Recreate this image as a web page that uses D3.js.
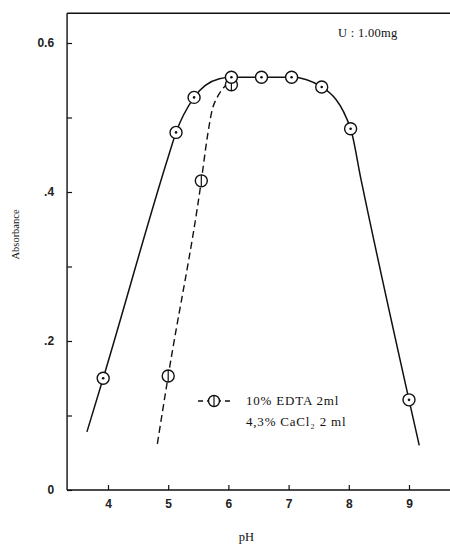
<!DOCTYPE html>
<html><head><meta charset="utf-8">
<script src="https://cdn.jsdelivr.net/npm/d3@7"></script>
<style>body{margin:0;background:#fff}svg{display:block}</style>
</head><body>
<svg id="c" width="450" height="550"></svg>
<script>
// ---- data ----
const solidMarkerPH = [3.92, 5.13, 5.43, 6.05, 6.55, 7.05, 7.55, 8.03, 9.0];
const solidMarkerAbs = [0.150, 0.480, 0.527, 0.554, 0.554, 0.554, 0.541, 0.485, 0.121];
const solidCurvePH = [3.65, 3.92, 5.0, 5.13, 5.43, 5.85, 6.05, 6.55, 7.05, 7.55, 8.03, 8.2, 9.0, 9.17];
const solidCurveAbs = [0.078, 0.150, 0.447, 0.480, 0.527, 0.552, 0.554, 0.554, 0.554, 0.541, 0.485, 0.418, 0.121, 0.060];
const dashMarkerPH = [5.0, 5.55, 6.05];
const dashMarkerAbs = [0.153, 0.415, 0.544];
const dashCurvePH = [4.82, 5.0, 5.55, 5.65, 5.73, 5.82, 5.92, 6.02];
const dashCurveAbs = [0.062, 0.153, 0.415, 0.474, 0.510, 0.528, 0.540, 0.548];
const xTicks = [4, 5, 6, 7, 8, 9];
const yTicks = [0, 0.2, 0.4, 0.6];
const yTickLabels = ["0", ".2", ".4", "0.6"];
const yMinorTicks = [0.1, 0.3, 0.5];
const legendLines = ["10% EDTA 2ml", "4,3% CaCl\u2082 2 ml"];
const noteText = "U : 1.00mg";
const xTitle = "pH";
const yTitle = "Absorbance";

// ---- layout ----
const svg = d3.select("#c");
const x = d3.scaleLinear().domain([4, 9]).range([108, 409]);
const y = d3.scaleLinear().domain([0, 0.6]).range([490, 43]);
const serif = "'Liberation Serif', 'DejaVu Serif', serif";
const sans = "'Liberation Sans', Arial, sans-serif";

// frame lines
const xL = x(3.32), xR = x(9.72), yT = y(0.64), yB = y(0);
svg.append("line").attr("x1", xL).attr("x2", xL).attr("y1", yT).attr("y2", yB).attr("stroke", "#111").attr("stroke-width", 1.4);
svg.append("line").attr("x1", xL).attr("x2", xR).attr("y1", yB).attr("y2", yB).attr("stroke", "#111").attr("stroke-width", 1.4);
svg.append("line").attr("x1", xL).attr("x2", xR).attr("y1", yT).attr("y2", yT).attr("stroke", "#111").attr("stroke-width", 1.4);

// axes
const gy = svg.append("g").attr("transform", `translate(${xL},0)`)
  .call(d3.axisLeft(y).tickValues(yTicks).tickFormat((d, i) => yTickLabels[i]).tickSize(-5).tickPadding(13));
gy.select(".domain").remove();
gy.selectAll("line").attr("stroke", "#111").attr("stroke-width", 1.2);
gy.selectAll("text").attr("font-family", sans).attr("font-size", 12).attr("font-weight", "bold").attr("fill", "#222");

const gym = svg.append("g").attr("transform", `translate(${xL},0)`)
  .call(d3.axisLeft(y).tickValues(yMinorTicks).tickFormat("").tickSize(-5));
gym.select(".domain").remove();
gym.selectAll("line").attr("stroke", "#111").attr("stroke-width", 1.2);

const gx = svg.append("g").attr("transform", `translate(0,${yB})`)
  .call(d3.axisBottom(x).tickValues(xTicks).tickFormat(d3.format("d")).tickSize(-5).tickPadding(9));
gx.select(".domain").remove();
gx.selectAll("line").attr("stroke", "#111").attr("stroke-width", 1.2);
gx.selectAll("text").attr("font-family", sans).attr("font-size", 12).attr("font-weight", "bold").attr("fill", "#222");

// titles
svg.append("text").attr("x", x(6.3)).attr("y", 541).attr("text-anchor", "middle")
  .attr("font-family", serif).attr("font-size", 12.5).attr("fill", "#111").text(xTitle);
svg.append("text").attr("transform", `translate(19,${y(0.343)}) rotate(-90)`).attr("text-anchor", "middle")
  .attr("font-family", serif).attr("font-size", 10.5).attr("fill", "#111").text(yTitle);
svg.append("text").attr("x", 338).attr("y", 37)
  .attr("font-family", serif).attr("font-size", 12.5).attr("letter-spacing", 0.3).attr("fill", "#111").text(noteText);

// curves
const solidData = solidCurvePH.map((p, i) => [p, solidCurveAbs[i]]);
const dashData = dashCurvePH.map((p, i) => [p, dashCurveAbs[i]]);
const line = d3.line().x(d => x(d[0])).y(d => y(d[1])).curve(d3.curveMonotoneX);
svg.append("path").attr("d", line(solidData)).attr("fill", "none").attr("stroke", "#111").attr("stroke-width", 1.5);
svg.append("path").attr("d", line(dashData)).attr("fill", "none").attr("stroke", "#111").attr("stroke-width", 1.4).attr("stroke-dasharray", "7,4");

// dashed markers: circle with vertical bar (drawn beneath solid markers)
const dm = svg.append("g").selectAll("g").data(dashMarkerPH.map((p, i) => [p, dashMarkerAbs[i]])).join("g")
  .attr("transform", (d, i) => `translate(${x(d[0])},${y(d[1])})`);
dm.append("circle").attr("r", 6).attr("fill", "#fff").attr("stroke", "#111").attr("stroke-width", 1.4);
dm.append("line").attr("x1", 0).attr("x2", 0).attr("y1", -6).attr("y2", 6).attr("stroke", "#111").attr("stroke-width", 1.2);

// solid markers: circle with center dot
const sm = svg.append("g").selectAll("g").data(solidMarkerPH.map((p, i) => [p, solidMarkerAbs[i]])).join("g")
  .attr("transform", d => `translate(${x(d[0])},${y(d[1])})`);
sm.append("circle").attr("r", 6).attr("fill", "#fff").attr("stroke", "#111").attr("stroke-width", 1.4);
sm.append("circle").attr("r", 1.3).attr("fill", "#111");

// legend
const lg = svg.append("g").attr("transform", "translate(198,401)");
lg.append("line").attr("x1", 0).attr("x2", 34).attr("y1", 0).attr("y2", 0).attr("stroke", "#111").attr("stroke-width", 1.4).attr("stroke-dasharray", "5,4");
lg.append("circle").attr("cx", 16).attr("r", 5.5).attr("fill", "#fff").attr("stroke", "#111").attr("stroke-width", 1.4);
lg.append("line").attr("x1", 16).attr("x2", 16).attr("y1", -5.5).attr("y2", 5.5).attr("stroke", "#111").attr("stroke-width", 1.2);
lg.selectAll("text.l").data(legendLines).join("text").attr("class", "l")
  .attr("x", 48).attr("y", (d, i) => 4 + i * 21)
  .attr("font-family", serif).attr("font-size", 13).attr("letter-spacing", 0.8).attr("fill", "#111").text(d => d);
</script>
</body></html>
